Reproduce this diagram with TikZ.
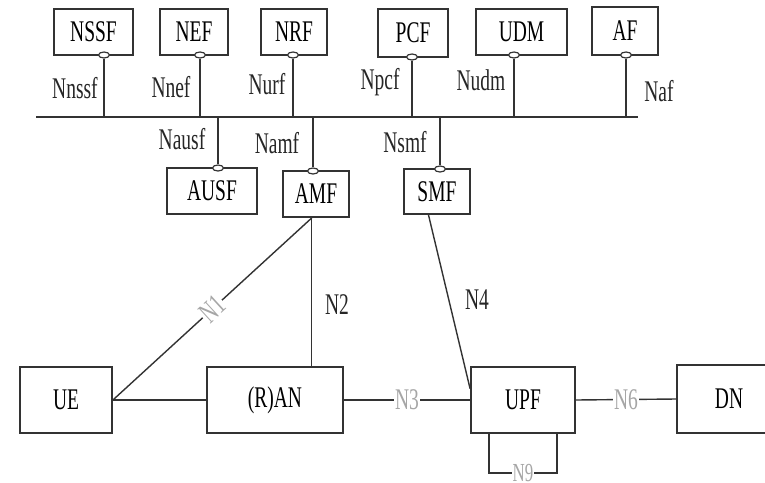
\documentclass[tikz,border=0pt]{standalone}
\usepackage{fontspec}
\newfontfamily\diagfont[FakeStretch=0.65]{Liberation Serif}
\usetikzlibrary{shapes.geometric,calc}

\begin{document}
\begin{tikzpicture}[x=1pt,y=-1pt,
	nf/.style={rectangle, draw=black!80, line width=1.8pt, inner sep=0pt, font=\diagfont\fontsize{30}{30}\selectfont},
	iface/.style={ellipse, draw=black!80, line width=1.2pt, fill=white, minimum width=11pt, minimum height=6pt, inner sep=0pt},
	link/.style={draw=black!80, line width=1.4pt},
	lbl/.style={inner sep=0pt, text=black!85, font=\diagfont\fontsize{30}{30}\selectfont},
	glbl/.style={lbl, text=black!35, fill=white, inner sep=1pt}]
			\useasboundingbox (0,0) rectangle (765,482);
			\clip (0,0) rectangle (765,482);
			\fill [white] (0,0) rectangle (765,482);
			
			% service bus
			\coordinate (busL) at (36,117);
			\coordinate (busR) at (638,117);
			\draw [link, line width=1.8pt] (busL) -- (busR);
			
			% upper network functions
			\node[nf, minimum width=79pt, minimum height=46pt] (nssf) at (93.5,32) {NSSF};
			\node[nf, minimum width=68pt, minimum height=46pt] (nef) at (194,32) {NEF};
			\node[nf, minimum width=66pt, minimum height=46pt] (nrf) at (294,32) {NRF};
			\node[nf, minimum width=70pt, minimum height=48pt] (pcf) at (413,33) {PCF};
			\node[nf, minimum width=91pt, minimum height=46pt] (udm) at (521.5,32) {UDM};
			\node[nf, minimum width=66pt, minimum height=48pt] (af) at (625,31) {AF};
			
			% lower network functions
			\node[nf, minimum width=90pt, minimum height=46pt] (ausf) at (212,191) {AUSF};
			\node[nf, minimum width=66pt, minimum height=46pt] (amf) at (316,194) {AMF};
			\node[nf, minimum width=66pt, minimum height=45pt] (smf) at (437,191.5) {SMF};
			
			% service interfaces
			\node[iface] (nssfif) at (104,55) {};
			\node[iface] (nefif) at (200,55) {};
			\node[iface] (nrfif) at (293,55) {};
			\node[iface] (pcfif) at (412,57) {};
			\node[iface] (udmif) at (514,55) {};
			\node[iface] (afif) at (626,55) {};
			\node[iface] (ausfif) at (218,168) {};
			\node[iface] (amfif) at (313,171) {};
			\node[iface] (smfif) at (440,169) {};
			\foreach \f in {nssfif,nefif,nrfif,pcfif,udmif,afif}
				\draw [link] (\f.south) -- (\f.south |- busL);
			\foreach \f in {ausfif,amfif,smfif}
				\draw [link] (\f.north) -- (\f.north |- busL);
			
			\node[lbl] (Nnssf) at (75,88) {Nnssf};
			\node[lbl] (Nnef) at (171,87) {Nnef};
			\node[lbl] (Nurf) at (267,84) {Nurf};
			\node[lbl] (Npcf) at (380,82) {Npcf};
			\node[lbl] (Nudm) at (481,80) {Nudm};
			\node[lbl] (Naf) at (659,91) {Naf};
			\node[lbl] (Nausf) at (182,139) {Nausf};
			\node[lbl] (Namf) at (277,143) {Namf};
			\node[lbl] (Nsmf) at (405,142) {Nsmf};
			
			% access and user plane
			\node[nf, minimum width=92pt, minimum height=66pt] (ue) at (66,400) {UE};
			\node[nf, minimum width=136pt, minimum height=66pt] (ran) at (275,400) {(R)AN};
			\node[nf, minimum width=104pt, minimum height=66pt] (upf) at (523,400) {UPF};
			\node[nf, minimum width=104pt, minimum height=68pt] (dn) at (729,399) {DN};
			
			\draw [link] (ue.east) -- node[glbl, sloped]{N1} (amf.-100);
			\draw [link] (amf.-100) -- (amf.-100 |- ran.north);
			\node[lbl] (N2) at (337,305) {N2};
			\draw [link] (ue.east) -- (ran.west);
			\draw [link] (ran.east) -- node[glbl]{N3} (upf.west);
			\draw [link] (smf.-110) -- (upf.168);
			\node[lbl] (N4) at (477,300) {N4};
			\draw [link] (upf.east) -- node[glbl]{N6} (dn.west);
			\draw [link] ($(upf.south)+(-34,0)$) -- ++(0,39) -- node[glbl, font=\diagfont\fontsize{26}{26}\selectfont]{N9} ++(68,0) -- ++(0,-39);
		\end{tikzpicture}
\end{document}
